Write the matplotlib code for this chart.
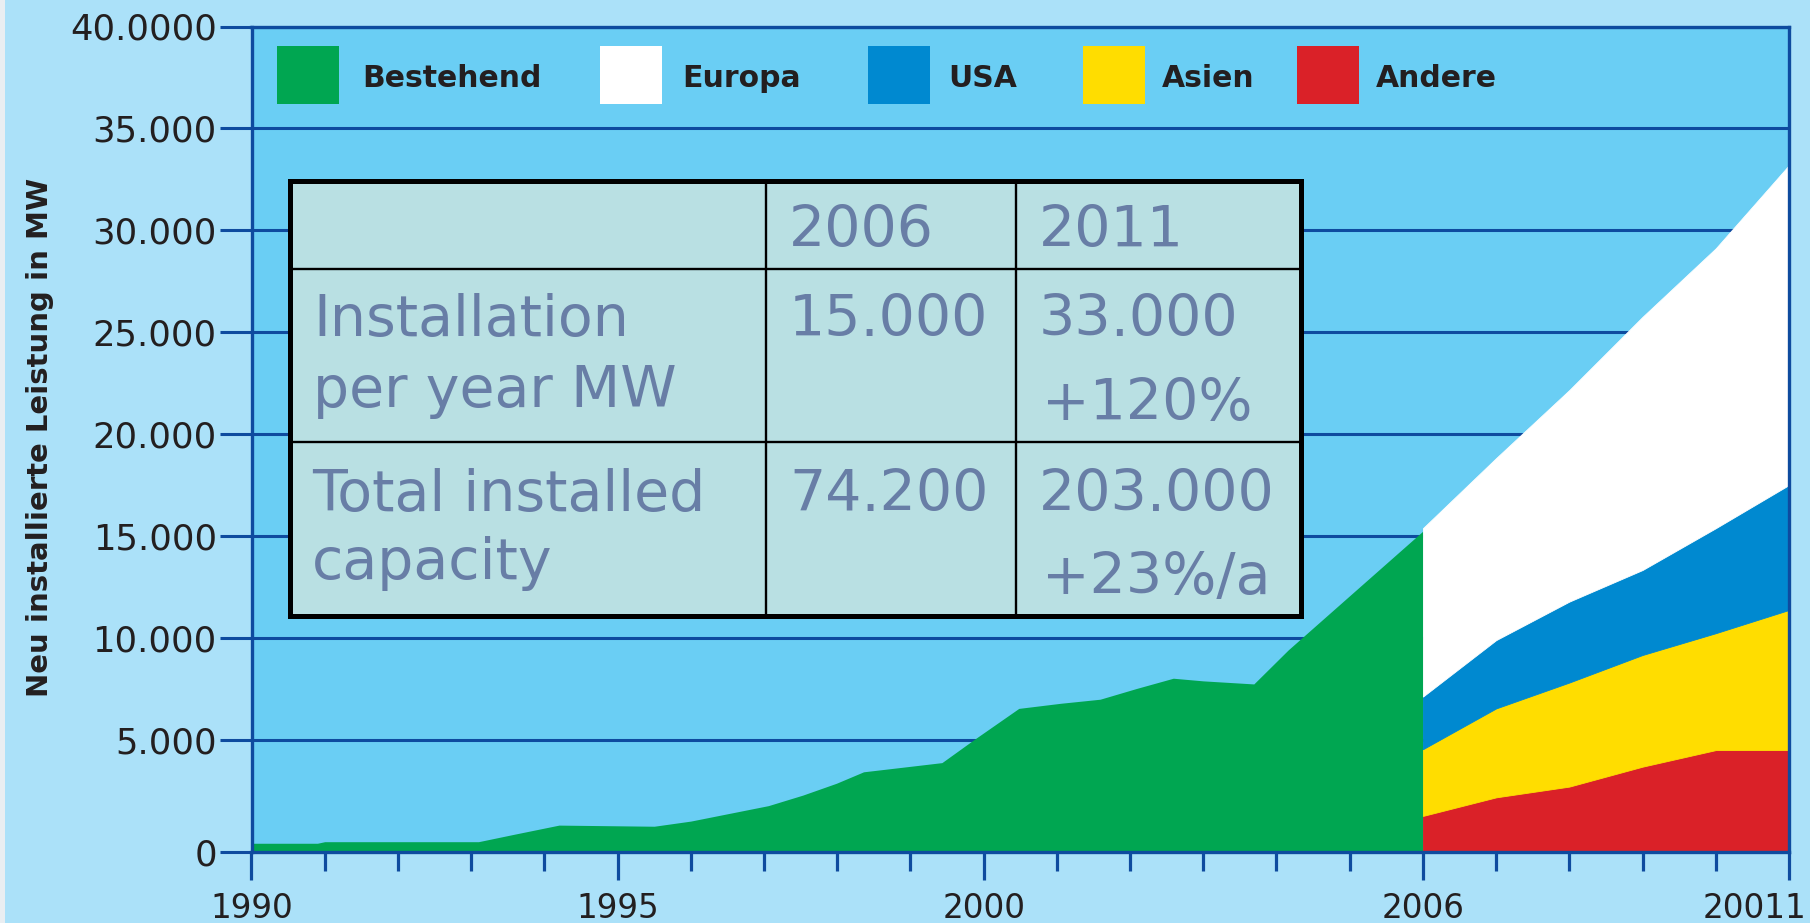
import matplotlib
matplotlib.use("Agg")
import matplotlib.pyplot as plt
from matplotlib.patches import Rectangle
from matplotlib.transforms import ScaledTranslation
import numpy as np

# ---------------- data ----------------
base_years = [1990.0, 1990.9, 1991.0, 1993.1, 1993.6, 1994.2, 1995.5, 1996.0,
              1997.06, 1997.53, 1997.99, 1998.36, 1999.04, 1999.43, 1999.86,
              2000.48, 2001.05, 2001.59, 2002.09, 2002.59, 2003.0, 2003.69,
              2004.16, 2006.0]
bestehend = [390, 390, 460, 460, 800, 1200, 1150, 1380,
             2070, 2540, 3070, 3580, 3840, 3990, 5000,
             6550, 6800, 7000, 7530, 8030, 7900, 7750,
             9420, 15250]

proj_years = [2006, 2007, 2008, 2009, 2010, 2011]
andere = [1610, 2440, 2920, 3810, 4550, 4550]
asien = [2980, 4110, 4900, 5360, 5690, 6830]
usa = [2540, 3350, 3970, 4170, 5150, 6130]
europa = [8260, 8930, 10380, 12420, 13730, 15690]

legend_labels = ["Bestehend", "Europa", "USA", "Asien", "Andere"]

y_ticks = [0, 5000, 10000, 15000, 20000, 25000, 30000, 35000, 40000]
y_tick_labels = ["0", "5.000", "10.000", "15.000", "20.000", "25.000",
                 "30.000", "35.000", "40.0000"]
x_ticks = [1990, 1995, 2000, 2006, 2011]
x_tick_labels = ["1990", "1995", "2000", "2006", "20011"]
y_label = "Neu installierte Leistung in MW"

table_header = ["2006", "2011"]
row1_label = ["Installation", "per year MW"]
row1_values = ["15.000", "33.000", "+120%"]
row2_label = ["Total installed", "capacity"]
row2_values = ["74.200", "203.000", "+23%/a"]

# ---------------- style ----------------
FIG_BG = "#ABE1F9"
PLOT_BG = "#6ACEF4"
DB = "#0E4B9F"
GREEN = "#00A651"
WHITE = "#FFFFFF"
BLUE = "#0089D0"
YELLOW = "#FFDD00"
RED = "#DA2128"
TXT = "#231F20"
TABLE_BG = "#B9E0E3"
TABLE_TXT = "#687EA6"

W, H = 1810, 923
fig = plt.figure(figsize=(W / 100, H / 100), dpi=100, facecolor=FIG_BG)

L, R, T, B = 251.5, 1789, 26.5, 852
ax = fig.add_axes([L / W, 1 - B / H, (R - L) / W, (B - T) / H])
ax.set_facecolor(PLOT_BG)

# the original axis has a stretched first interval (0..5000)
STRETCH = 0.0988
def _fwd(y):
    y = np.asarray(y, dtype=float)
    return y + STRETCH * np.clip(y, None, 5000)
def _inv(u):
    u = np.asarray(u, dtype=float)
    lim = 5000 * (1 + STRETCH)
    return np.where(u < lim, u / (1 + STRETCH), u - STRETCH * 5000)
ax.set_yscale("function", functions=(_fwd, _inv))

ax.set_xlim(1990, 2011)
ax.set_ylim(0, 40000)

ax.fill_between(base_years, bestehend, 0, color=GREEN, lw=0, zorder=2)
ax.stackplot(proj_years, andere, asien, usa, europa,
             colors=[RED, YELLOW, BLUE, WHITE], linewidth=0.6,
             edgecolor="face", zorder=2)

ax.set_axisbelow(True)
ax.yaxis.grid(True, color=DB, lw=2.2)
ax.xaxis.grid(False)
for s in ax.spines.values():
    s.set_color(DB)
    s.set_linewidth(2.4)

ax.set_yticks(y_ticks)
ax.set_yticklabels(y_tick_labels)
ax.yaxis.set_minor_locator(matplotlib.ticker.NullLocator())
ax.set_xticks(x_ticks)
ax.set_xticklabels(x_tick_labels)
ax.set_xticks(list(range(1990, 2012)), minor=True)

ax.tick_params(axis="y", which="major", direction="out", length=23, width=2.2,
               color=DB, pad=2, labelsize=25.5, labelcolor=TXT)
ax.tick_params(axis="x", which="major", direction="out", length=20, width=2.3,
               color=DB, pad=9, labelsize=23.5, labelcolor=TXT)
ax.tick_params(axis="x", which="minor", direction="out", length=13.7, width=2.3,
               color=DB)

# shift last x label left so it stays inside the figure
lbl = ax.get_xticklabels()[-1]
lbl.set_transform(lbl.get_transform() + ScaledTranslation(-0.34, 0, fig.dpi_scale_trans))

fig.text(40 / W, 1 - 437 / H, y_label, rotation=90, ha="center", va="center",
         fontsize=21, fontweight="bold", color=TXT)

# ---------------- overlay (legend, table) ----------------
ov = fig.add_axes([0, 0, 1, 1], zorder=5)
ov.set_xlim(0, W)
ov.set_ylim(H, 0)
ov.axis("off")
ov.patch.set_alpha(0)

ov.add_patch(Rectangle((0, 0), 5, H, facecolor="#E9EEF2", edgecolor="none"))

leg_colors = [GREEN, WHITE, BLUE, YELLOW, RED]
leg_patch_x = [277, 600, 868, 1082.5, 1297]
leg_text_x = [362, 682, 948.5, 1162, 1375.5]
for lab, c, px, tx in zip(legend_labels, leg_colors, leg_patch_x, leg_text_x):
    ov.add_patch(Rectangle((px, 45.5), 62, 58, facecolor=c, edgecolor="none"))
    ov.text(tx, 87, lab, ha="left", va="baseline", fontsize=21.5,
            fontweight="bold", color=TXT)

# table
tl, tt, tr, tb = 290, 180.7, 1301, 616
ov.add_patch(Rectangle((tl, tt), tr - tl, tb - tt, facecolor=TABLE_BG,
                       edgecolor="black", lw=3.6, zorder=3))
for xv in (766, 1016):
    ov.plot([xv, xv], [tt, tb], color="black", lw=1.7, zorder=4)
for yv in (268.7, 442.3):
    ov.plot([tl, tr], [yv, yv], color="black", lw=1.7, zorder=4)

tfs = 41
def ttext(x, y, s):
    ov.text(x, y, s, ha="left", va="baseline", fontsize=tfs, color=TABLE_TXT, zorder=5)

ttext(789, 247.3, table_header[0])
ttext(1039, 247.3, table_header[1])
ttext(313, 335.7, row1_label[0])
ttext(313, 406.7, row1_label[1])
ttext(789, 335.7, row1_values[0])
ttext(1039, 335.7, row1_values[1])
ttext(1042, 420, row1_values[2])
ttext(312, 510.7, row2_label[0])
ttext(312, 579.3, row2_label[1])
ttext(789, 510.7, row2_values[0])
ttext(1039, 510.7, row2_values[1])
ttext(1042, 594, row2_values[2])

fig.savefig("out.png", dpi=100, facecolor=FIG_BG)
